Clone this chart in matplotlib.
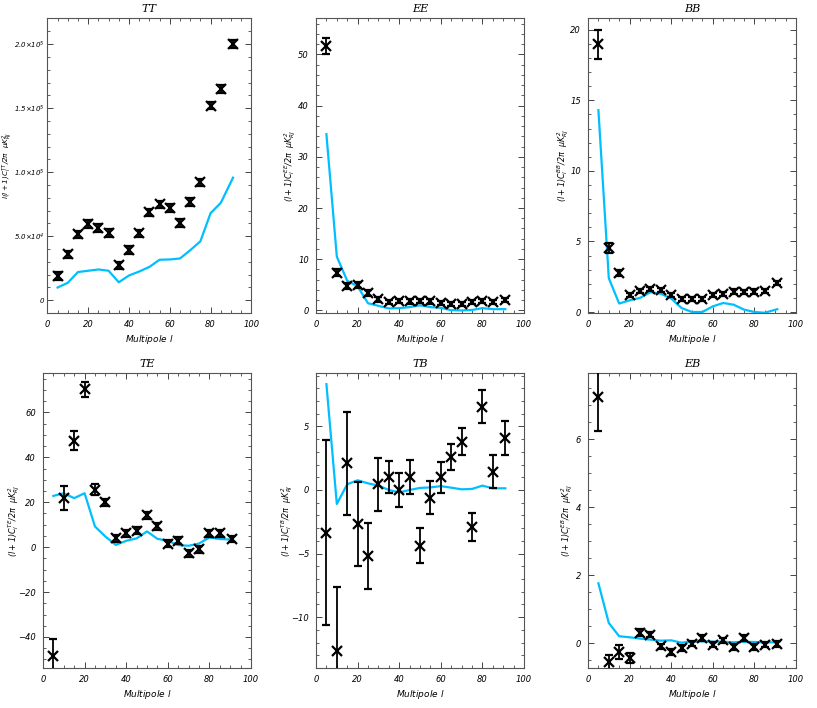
import matplotlib
matplotlib.use('Agg')
import matplotlib.pyplot as plt
import numpy as np
from matplotlib.ticker import MultipleLocator, FuncFormatter

plt.rc('font', family='DejaVu Sans', style='italic', size=6)
plt.rc('mathtext', fontset='dejavusans')
plt.rc('xtick', direction='in', top=True, labelsize=6)
plt.rc('ytick', direction='in', right=True, labelsize=6)

# multipole bins
ell = [5, 10, 15, 20, 25, 30, 35, 40, 45, 50, 55, 60, 65, 70, 75, 80, 85, 91]

# measured spectra (points) and errors
tt_data = [18.8e3, 35.7e3, 51.4e3, 59.7e3, 56.3e3, 52.7e3, 27.1e3, 39.4e3, 52.2e3,
           68.6e3, 74.8e3, 72.0e3, 60.5e3, 76.7e3, 92.0e3, 152e3, 165e3, 200e3]
tt_err = [3.0e3] * 18
ee_data = [51.6, 7.4, 4.7, 4.9, 3.4, 2.2, 1.6, 1.9, 1.75, 1.9, 1.75, 1.4, 1.2, 1.3,
           1.6, 1.8, 1.7, 2.0]
ee_err = [1.5, 0.7, 0.6, 0.6, 0.5, 0.5, 0.4, 0.4, 0.4, 0.4, 0.4, 0.4, 0.4, 0.4,
          0.4, 0.4, 0.4, 0.4]
bb_data = [18.96, 4.55, 2.77, 1.23, 1.5, 1.63, 1.54, 1.18, 0.92, 0.92, 0.92, 1.2,
           1.3, 1.45, 1.42, 1.45, 1.5, 2.06]
bb_err = [1.0, 0.35, 0.2, 0.15, 0.15, 0.15, 0.15, 0.15, 0.15, 0.15, 0.15, 0.15,
          0.15, 0.15, 0.15, 0.15, 0.15, 0.15]
te_data = [-48.3, 21.8, 47.3, 70.2, 25.5, 20.0, 3.9, 6.2, 7.4, 14.1, 9.2, 1.6, 2.8,
           -2.7, -0.9, 6.2, 6.2, 3.6]
te_err = [7.6, 5.3, 4.2, 3.4, 2.5, 1.6, 1.5, 1.5, 1.5, 1.5, 1.5, 1.5, 1.5, 1.5,
          1.5, 1.5, 1.5, 1.5]
tb_data = [-3.35, -12.7, 2.09, -2.7, -5.16, 0.45, 1.0, 0.0, 1.0, -4.37, -0.6, 1.0,
           2.6, 3.8, -2.88, 6.54, 1.44, 4.1]
tb_err = [7.3, 5.05, 4.05, 3.3, 2.6, 2.1, 1.25, 1.35, 1.35, 1.4, 1.3, 1.2, 1.05,
          1.07, 1.1, 1.3, 1.3, 1.35]
eb_data = [7.24, -0.57, -0.27, -0.44, 0.31, 0.25, -0.1, -0.27, -0.15, -0.02, 0.15,
           -0.05, 0.08, -0.12, 0.15, -0.12, -0.05, -0.03]
eb_err = [1.0, 0.23, 0.2, 0.15, 0.1, 0.08, 0.08, 0.08, 0.08, 0.08, 0.08, 0.08,
          0.08, 0.08, 0.08, 0.08, 0.08, 0.08]

# model curves
tt_model = [9.9e3, 13.6e3, 22e3, 23e3, 24e3, 23e3, 14e3, 19.3e3, 22.4e3, 26e3,
            31.6e3, 31.8e3, 32.6e3, 39e3, 46e3, 68e3, 76e3, 95.7e3]
ee_model = [34.4, 10.5, 5.8, 4.7, 1.4, 0.9, 0.4, 0.45, 0.65, 1.0, 0.65, 0.5, 0.05,
            0.0, 0.1, 0.45, 0.25, 0.25]
bb_model = [14.3, 2.4, 0.6, 0.83, 1.0, 1.4, 1.3, 0.95, 0.28, 0.0, 0.0, 0.4, 0.64,
            0.52, 0.17, 0.0, -0.05, 0.2]
te_model = [22.8, 24.0, 21.8, 24.0, 9.2, 4.7, 1.0, 2.8, 3.9, 7.0, 3.7, 2.8, 0.9,
            0.6, 1.6, 4.3, 3.6, 3.4]
tb_model = [8.32, -1.1, 0.45, 0.76, 0.52, 0.34, 0.0, -0.2, 0.0, 0.16, 0.2, 0.3,
            0.18, 0.05, 0.08, 0.34, 0.13, 0.13]
eb_model = [1.76, 0.59, 0.2, 0.17, 0.13, 0.1, 0.07, 0.08, 0.01, 0.05, 0.05, 0.04,
            0.04, 0.02, 0.04, 0.03, 0.02, 0.02]

panels = [
    ('TT', tt_data, tt_err, tt_model, (-1e4, 2.2e5), 5e4, 1e4, -0.16),
    ('EE', ee_data, ee_err, ee_model, (-0.5, 57), 10, 2, -0.085),
    ('BB', bb_data, bb_err, bb_model, (-0.07, 20.8), 5, 1, -0.08),
    ('TE', te_data, te_err, te_model, (-53.8, 77.3), 20, 5, -0.1),
    ('TB', tb_data, tb_err, tb_model, (-14.0, 9.16), 5, 1, -0.1),
    ('EB', eb_data, eb_err, eb_model, (-0.735, 7.94), 2, 0.5, -0.062),
]

fig = plt.figure(figsize=(8.17, 7.08), dpi=100)
lefts = [0.0526, 0.3868, 0.7197]
bottoms = [0.5579, 0.0565]
w, h = 0.2546, 0.4160


def tt_fmt(v, pos):
    if v == 0:
        return '0'
    e = int(np.floor(np.log10(abs(v))))
    return r'$%.1f{\times}10^{%d}$' % (v / 10**e, e)


for i, (name, d, err, mod, ylim, maj, mnr, labx) in enumerate(panels):
    if name == 'TT':
        # nudge the first panel right a little so its long y label fits
        ax = fig.add_axes([0.058, bottoms[0], 0.2497, h])
    else:
        ax = fig.add_axes([lefts[i % 3], bottoms[i // 3], w, h])
    ax.plot(ell, mod, color='#00bfff', lw=1.6, zorder=2)
    ax.errorbar(ell, d, yerr=err, fmt='x', color='k', ms=7, mew=1.6,
                elinewidth=1.3, capsize=3, capthick=1.3, zorder=3)
    ax.set_xlim(0, 100)
    ax.set_ylim(*ylim)
    ax.xaxis.set_major_locator(MultipleLocator(20))
    ax.xaxis.set_minor_locator(MultipleLocator(5))
    ax.yaxis.set_major_locator(MultipleLocator(maj))
    ax.yaxis.set_minor_locator(MultipleLocator(mnr))
    ax.tick_params(which='major', length=4, width=0.7, color='#444444', pad=5)
    ax.tick_params(which='minor', length=2, width=0.6, color='#444444')
    ax.tick_params(axis='x', which='both', top=True)
    ax.tick_params(axis='y', which='both', right=True)
    for s in ax.spines.values():
        s.set_color('#555555')
        s.set_linewidth(0.8)
    ax.set_title(name, family='DejaVu Serif', style='italic', fontsize=8, pad=5)
    ax.set_xlabel('Multipole $l$', fontsize=6.5, labelpad=3)
    if name == 'TT':
        ax.tick_params(axis='y', labelsize=5.0, pad=2)
        ax.yaxis.set_major_formatter(FuncFormatter(tt_fmt))
        ylab = r'$l(l+1)C_l^{TT}/2\pi\ \ \mu K_{RJ}^2$'
        ax.set_ylabel(ylab, fontsize=5.2)
    else:
        ylab = r'$(l+1)C_l^{%s}/2\pi\ \ \mu K_{RJ}^2$' % name
        ax.set_ylabel(ylab, fontsize=5.8)
    ax.yaxis.set_label_coords(labx, 0.5)

fig.savefig('out.png', dpi=100)
